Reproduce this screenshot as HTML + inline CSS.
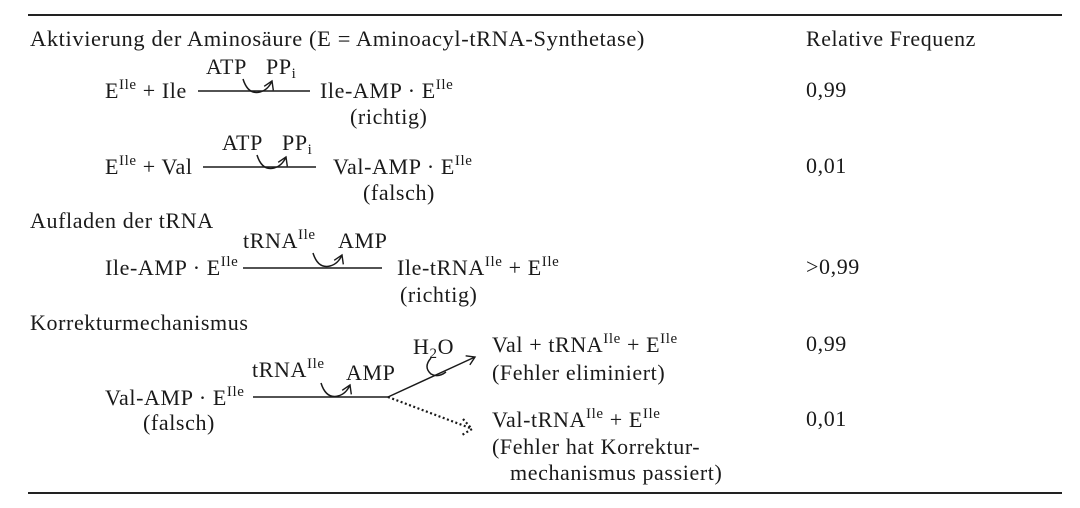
<!DOCTYPE html>
<html><head><meta charset="utf-8"><style>
html,body{margin:0;padding:0;background:#fff;}
svg{display:block;}
text{font-family:"Liberation Serif",serif;font-size:22px;fill:#1a1a1a;letter-spacing:0.6px;}
.s{font-size:15px;}
</style></head><body>
<svg width="1080" height="508" viewBox="0 0 1080 508" xmlns="http://www.w3.org/2000/svg">
<defs>
<marker id="ah" markerWidth="12" markerHeight="12" refX="9" refY="6" orient="auto" markerUnits="userSpaceOnUse">
<path d="M1,1 L9,6 L1,11" fill="none" stroke="#1a1a1a" stroke-width="1.4"/>
</marker>
</defs>
<line x1="28" y1="15" x2="1062" y2="15" stroke="#222" stroke-width="2"/>
<line x1="28" y1="493" x2="1062" y2="493" stroke="#222" stroke-width="2"/>

<text x="30" y="46" textLength="615" lengthAdjust="spacingAndGlyphs">Aktivierung der Aminosäure (E = Aminoacyl-tRNA-Synthetase)</text>
<text x="806" y="46" textLength="170" lengthAdjust="spacingAndGlyphs">Relative Frequenz</text>

<!-- row 1 -->
<text x="206" y="74">ATP</text>
<text x="266" y="74">PP<tspan class="s" dy="4">i</tspan></text>
<path d="M243,79 Q248,95 260,92 Q268,90 272,81" fill="none" stroke="#1a1a1a" stroke-width="1.5" marker-end="url(#ah)"/>
<text x="105" y="98">E<tspan class="s" dy="-9">Ile</tspan><tspan dy="9"> + Ile</tspan></text>
<line x1="198" y1="91" x2="310" y2="91" stroke="#1a1a1a" stroke-width="1.5"/>
<text x="320" y="98">Ile-AMP · E<tspan class="s" dy="-9">Ile</tspan></text>
<text x="350" y="124">(richtig)</text>
<text x="806" y="97">0,99</text>

<!-- row 2 -->
<text x="222" y="150">ATP</text>
<text x="282" y="150">PP<tspan class="s" dy="4">i</tspan></text>
<path d="M257,155 Q262,171 274,168 Q282,166 286,157" fill="none" stroke="#1a1a1a" stroke-width="1.5" marker-end="url(#ah)"/>
<text x="105" y="174">E<tspan class="s" dy="-9">Ile</tspan><tspan dy="9"> + Val</tspan></text>
<line x1="203" y1="167" x2="316" y2="167" stroke="#1a1a1a" stroke-width="1.5"/>
<text x="333" y="174">Val-AMP · E<tspan class="s" dy="-9">Ile</tspan></text>
<text x="363" y="200">(falsch)</text>
<text x="806" y="173">0,01</text>

<text x="30" y="228">Aufladen der tRNA</text>
<text x="243" y="248">tRNA<tspan class="s" dy="-9">Ile</tspan></text>
<text x="338" y="248">AMP</text>
<path d="M313,253 Q318,269 330,266 Q338,264 342,255" fill="none" stroke="#1a1a1a" stroke-width="1.5" marker-end="url(#ah)"/>
<text x="105" y="275">Ile-AMP · E<tspan class="s" dy="-9">Ile</tspan></text>
<line x1="243" y1="268" x2="382" y2="268" stroke="#1a1a1a" stroke-width="1.5"/>
<text x="397" y="275">Ile-tRNA<tspan class="s" dy="-9">Ile</tspan><tspan dy="9"> + E</tspan><tspan class="s" dy="-9">Ile</tspan></text>
<text x="400" y="302">(richtig)</text>
<text x="806" y="274">&gt;0,99</text>

<text x="30" y="330">Korrekturmechanismus</text>
<text x="413" y="354">H<tspan class="s" dy="4">2</tspan><tspan dy="-4">O</tspan></text>
<path d="M431,358 Q423,367 431,374 Q438,378 446,372" fill="none" stroke="#1a1a1a" stroke-width="1.5"/>
<text x="492" y="352">Val + tRNA<tspan class="s" dy="-9">Ile</tspan><tspan dy="9"> + E</tspan><tspan class="s" dy="-9">Ile</tspan></text>
<text x="492" y="380">(Fehler eliminiert)</text>
<text x="806" y="351">0,99</text>
<text x="252" y="377">tRNA<tspan class="s" dy="-9">Ile</tspan></text>
<text x="346" y="380">AMP</text>
<path d="M321,383 Q326,399 338,396 Q346,394 350,385" fill="none" stroke="#1a1a1a" stroke-width="1.5" marker-end="url(#ah)"/>
<text x="105" y="405">Val-AMP · E<tspan class="s" dy="-9">Ile</tspan></text>
<text x="143" y="430">(falsch)</text>
<line x1="253" y1="397" x2="388" y2="397" stroke="#1a1a1a" stroke-width="1.5"/>
<line x1="388" y1="397" x2="475" y2="357" stroke="#1a1a1a" stroke-width="1.5" marker-end="url(#ah)"/>
<line x1="388" y1="397" x2="470" y2="428" stroke="#1a1a1a" stroke-width="2.2" stroke-dasharray="2,2.5"/>
<path d="M463,419 L472,429 L462,435" fill="none" stroke="#1a1a1a" stroke-width="2.2" stroke-dasharray="2,2.5"/>
<text x="492" y="427">Val-tRNA<tspan class="s" dy="-9">Ile</tspan><tspan dy="9"> + E</tspan><tspan class="s" dy="-9">Ile</tspan></text>
<text x="492" y="454">(Fehler hat Korrektur-</text>
<text x="510" y="480">mechanismus passiert)</text>
<text x="806" y="426">0,01</text>
</svg>
</body></html>
